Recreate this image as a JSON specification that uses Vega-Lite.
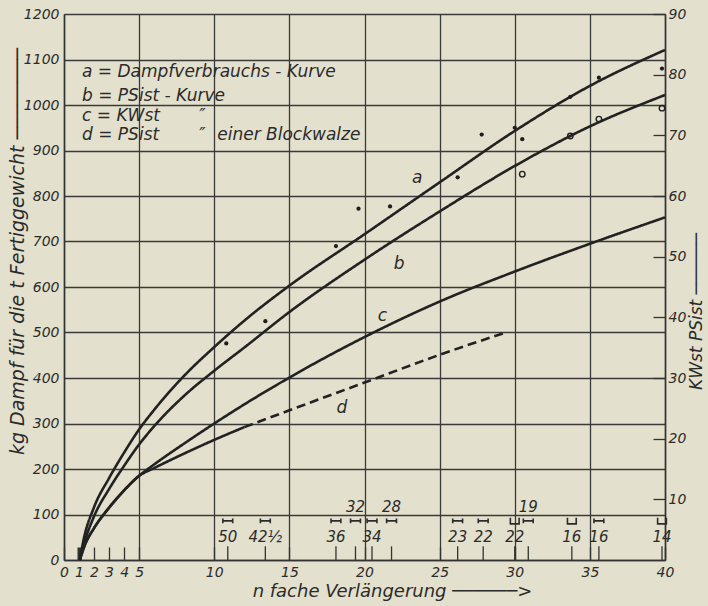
{
  "$schema": "https://vega.github.io/schema/vega-lite/v6.json",
  "width": 601,
  "height": 546,
  "autosize": "none",
  "padding": {"left": 64, "top": 14, "right": 43, "bottom": 46},
  "background": "#e3e0cd",
  "config": {
    "view": {"stroke": null},
    "font": "DejaVu Sans",
    "axis": {
      "domainColor": "#333333",
      "domainWidth": 1.5,
      "gridColor": "#3a3a3a",
      "gridWidth": 1.3,
      "gridOpacity": 1,
      "tickColor": "#333333",
      "labelFont": "DejaVu Sans",
      "labelFontStyle": "italic",
      "labelFontSize": 14,
      "labelColor": "#2b2b2b",
      "titleFont": "DejaVu Sans",
      "titleFontStyle": "italic",
      "titleFontWeight": "normal",
      "titleFontSize": 18,
      "titleColor": "#2b2b2b"
    },
    "text": {"font": "DejaVu Sans", "fontStyle": "italic", "color": "#2b2b2b"}
  },
  "datasets": {
    "curves": [
      {"s": "a", "part": "solid", "x": 1.05, "v": 0},
      {"s": "a", "part": "solid", "x": 1.3, "v": 44},
      {"s": "a", "part": "solid", "x": 2, "v": 116},
      {"s": "a", "part": "solid", "x": 3, "v": 180},
      {"s": "a", "part": "solid", "x": 4, "v": 236},
      {"s": "a", "part": "solid", "x": 5, "v": 287},
      {"s": "a", "part": "solid", "x": 6, "v": 330},
      {"s": "a", "part": "solid", "x": 8, "v": 405},
      {"s": "a", "part": "solid", "x": 10, "v": 468},
      {"s": "a", "part": "solid", "x": 12, "v": 526},
      {"s": "a", "part": "solid", "x": 15, "v": 603},
      {"s": "a", "part": "solid", "x": 20, "v": 716},
      {"s": "a", "part": "solid", "x": 25, "v": 830},
      {"s": "a", "part": "solid", "x": 30, "v": 943},
      {"s": "a", "part": "solid", "x": 35, "v": 1042},
      {"s": "a", "part": "solid", "x": 40, "v": 1121},
      {"s": "b", "part": "solid", "x": 1.05, "v": 0},
      {"s": "b", "part": "solid", "x": 1.3, "v": 32},
      {"s": "b", "part": "solid", "x": 2, "v": 96},
      {"s": "b", "part": "solid", "x": 3, "v": 156},
      {"s": "b", "part": "solid", "x": 4, "v": 207},
      {"s": "b", "part": "solid", "x": 5, "v": 254},
      {"s": "b", "part": "solid", "x": 6, "v": 294},
      {"s": "b", "part": "solid", "x": 8, "v": 361},
      {"s": "b", "part": "solid", "x": 10, "v": 416},
      {"s": "b", "part": "solid", "x": 12, "v": 467},
      {"s": "b", "part": "solid", "x": 15, "v": 545},
      {"s": "b", "part": "solid", "x": 20, "v": 660},
      {"s": "b", "part": "solid", "x": 25, "v": 766},
      {"s": "b", "part": "solid", "x": 30, "v": 866},
      {"s": "b", "part": "solid", "x": 35, "v": 953},
      {"s": "b", "part": "solid", "x": 40, "v": 1022},
      {"s": "c", "part": "solid", "x": 1.05, "v": 0},
      {"s": "c", "part": "solid", "x": 1.4, "v": 34},
      {"s": "c", "part": "solid", "x": 2, "v": 70},
      {"s": "c", "part": "solid", "x": 3, "v": 115},
      {"s": "c", "part": "solid", "x": 4, "v": 153},
      {"s": "c", "part": "solid", "x": 5, "v": 185},
      {"s": "c", "part": "solid", "x": 6, "v": 210},
      {"s": "c", "part": "solid", "x": 8, "v": 256},
      {"s": "c", "part": "solid", "x": 10, "v": 300},
      {"s": "c", "part": "solid", "x": 12, "v": 342},
      {"s": "c", "part": "solid", "x": 15, "v": 401},
      {"s": "c", "part": "solid", "x": 20, "v": 490},
      {"s": "c", "part": "solid", "x": 25, "v": 568},
      {"s": "c", "part": "solid", "x": 30, "v": 634},
      {"s": "c", "part": "solid", "x": 35, "v": 695},
      {"s": "c", "part": "solid", "x": 40, "v": 753},
      {"s": "d", "part": "solid", "x": 1.05, "v": 0},
      {"s": "d", "part": "solid", "x": 1.4, "v": 34},
      {"s": "d", "part": "solid", "x": 2, "v": 70},
      {"s": "d", "part": "solid", "x": 3, "v": 115},
      {"s": "d", "part": "solid", "x": 4, "v": 153},
      {"s": "d", "part": "solid", "x": 5, "v": 185},
      {"s": "d", "part": "solid", "x": 6, "v": 202},
      {"s": "d", "part": "solid", "x": 8, "v": 234},
      {"s": "d", "part": "solid", "x": 10, "v": 264},
      {"s": "d", "part": "solid", "x": 12, "v": 292},
      {"s": "d2", "part": "dashed", "x": 12, "v": 292},
      {"s": "d2", "part": "dashed", "x": 15, "v": 329},
      {"s": "d2", "part": "dashed", "x": 20, "v": 390},
      {"s": "d2", "part": "dashed", "x": 25, "v": 451},
      {"s": "d2", "part": "dashed", "x": 29.3, "v": 499}
    ],
    "points": [
      {"kind": "dot", "x": 10.8, "v": 476},
      {"kind": "dot", "x": 13.4, "v": 525},
      {"kind": "dot", "x": 18.1, "v": 690},
      {"kind": "dot", "x": 19.6, "v": 772},
      {"kind": "dot", "x": 21.7, "v": 777},
      {"kind": "dot", "x": 26.2, "v": 841},
      {"kind": "dot", "x": 27.8, "v": 935},
      {"kind": "dot", "x": 30.0, "v": 950},
      {"kind": "dot", "x": 30.5, "v": 925},
      {"kind": "dot", "x": 33.7, "v": 1018},
      {"kind": "dot", "x": 35.6, "v": 1060},
      {"kind": "dot", "x": 39.8, "v": 1080},
      {"kind": "ring", "x": 30.5, "v": 848},
      {"kind": "ring", "x": 33.7, "v": 932},
      {"kind": "ring", "x": 35.6, "v": 969},
      {"kind": "ring", "x": 39.8, "v": 993}
    ],
    "ann": [
      {"x": 10.9, "n": "50", "sym": "H", "pos": "below"},
      {"x": 13.4, "n": "42½", "sym": "H", "pos": "below"},
      {"x": 18.1, "n": "36", "sym": "H", "pos": "below"},
      {"x": 19.4, "n": "32", "sym": "H", "pos": "above"},
      {"x": 20.5, "n": "34", "sym": "H", "pos": "below"},
      {"x": 21.8, "n": "28", "sym": "H", "pos": "above"},
      {"x": 26.2, "n": "23", "sym": "H", "pos": "below"},
      {"x": 27.9, "n": "22", "sym": "H", "pos": "below"},
      {"x": 30.0, "n": "22", "sym": "U", "pos": "below"},
      {"x": 30.9, "n": "19", "sym": "H", "pos": "above"},
      {"x": 33.8, "n": "16", "sym": "U", "pos": "below"},
      {"x": 35.6, "n": "16", "sym": "H", "pos": "below"},
      {"x": 39.8, "n": "14", "sym": "U", "pos": "below"}
    ],
    "curvelabels": [
      {"t": "a", "x": 23.5, "v": 840},
      {"t": "b", "x": 22.3, "v": 651},
      {"t": "c", "x": 21.2, "v": 536},
      {"t": "d", "x": 18.5, "v": 334}
    ],
    "legend": [
      {"t": "a = Dampfverbrauchs - Kurve", "x": 1.2, "v": 1072},
      {"t": "b = PSist - Kurve", "x": 1.2, "v": 1020},
      {"t": "c = KWst", "x": 1.2, "v": 975},
      {"t": "″", "x": 9.0, "v": 975},
      {"t": "d = PSist", "x": 1.2, "v": 935},
      {"t": "″", "x": 9.0, "v": 935},
      {"t": "einer Blockwalze", "x": 10.2, "v": 935}
    ]
  },
  "layer": [
    {
      "data": {"name": "curves"},
      "mark": {"type": "line", "interpolate": "monotone", "strokeWidth": 2.6, "color": "#222222"},
      "encoding": {
        "x": {
          "field": "x", "type": "quantitative",
          "scale": {"domain": [0, 40], "nice": false, "zero": false},
          "axis": {
            "values": [0, 1, 2, 3, 4, 5, 10, 15, 20, 25, 30, 35, 40],
            "grid": true,
            "gridOpacity": {"condition": {"test": "datum.value > 0 && datum.value < 5", "value": 0}, "value": 1},
            "tickSize": -13,
            "tickWidth": {"condition": {"test": "datum.value == 1", "value": 4}, "value": 1.3},
            "labelPadding": 18,
            "labelFlush": false,
            "labelOverlap": false,
            "title": "n fache Verlängerung ──────>",
            "titleX": 328,
            "titleY": 31,
            "titleAlign": "center",
            "titleBaseline": "middle"
          }
        },
        "y": {
          "field": "v", "type": "quantitative",
          "scale": {"domain": [0, 1200], "nice": false},
          "axis": {
            "values": [0, 100, 200, 300, 400, 500, 600, 700, 800, 900, 1000, 1100, 1200],
            "format": "d",
            "grid": true,
            "tickSize": 0,
            "labelPadding": 5,
            "labelOverlap": false,
            "title": "kg Dampf für die t Fertiggewicht  ────────",
            "titleFontSize": 19,
            "titleAngle": -90,
            "titleX": -47,
            "titleY": 237,
            "titleAlign": "center",
            "titleBaseline": "middle"
          }
        },
        "detail": {"field": "s"},
        "strokeDash": {
          "field": "part", "type": "nominal",
          "scale": {"domain": ["solid", "dashed"], "range": [[1, 0], [9, 5]]},
          "legend": null
        }
      }
    },
    {
      "data": {"name": "points"},
      "transform": [{"filter": "datum.kind == 'dot'"}],
      "mark": {"type": "point", "filled": true, "size": 18, "color": "#1e1e1e", "opacity": 1},
      "encoding": {
        "x": {"field": "x", "type": "quantitative"},
        "y": {"field": "v", "type": "quantitative", "axis": null}
      }
    },
    {
      "data": {"name": "points"},
      "transform": [{"filter": "datum.kind == 'ring'"}],
      "mark": {"type": "point", "filled": false, "size": 30, "strokeWidth": 1.4, "color": "#222222", "opacity": 1},
      "encoding": {
        "x": {"field": "x", "type": "quantitative"},
        "y": {"field": "v", "type": "quantitative", "axis": null}
      }
    },
    {
      "data": {"name": "ann"},
      "mark": {"type": "rule", "strokeWidth": 1.3, "color": "#333333"},
      "encoding": {
        "x": {"field": "x", "type": "quantitative"},
        "y": {"datum": 0, "axis": null},
        "y2": {"datum": 30}
      }
    },
    {
      "data": {"name": "ann"},
      "mark": {"type": "point", "filled": false, "size": 120, "strokeWidth": 1.6, "color": "#2b2b2b", "opacity": 1},
      "encoding": {
        "x": {"field": "x", "type": "quantitative"},
        "y": {"datum": 86, "axis": null},
        "shape": {
          "field": "sym", "type": "nominal",
          "scale": {
            "domain": ["H", "U"],
            "range": ["M-0.9,-0.45L-0.9,0.45M-0.9,0L0.9,0M0.9,-0.45L0.9,0.45", "M-0.8,-0.55L-0.8,0.55L0.8,0.55L0.8,-0.55"]
          },
          "legend": null
        }
      }
    },
    {
      "data": {"name": "ann"},
      "transform": [{"filter": "datum.pos == 'below'"}],
      "mark": {"type": "text", "fontSize": 15, "baseline": "middle"},
      "encoding": {
        "x": {"field": "x", "type": "quantitative"},
        "y": {"datum": 51, "axis": null},
        "text": {"field": "n"}
      }
    },
    {
      "data": {"name": "ann"},
      "transform": [{"filter": "datum.pos == 'above'"}],
      "mark": {"type": "text", "fontSize": 15, "baseline": "middle"},
      "encoding": {
        "x": {"field": "x", "type": "quantitative"},
        "y": {"datum": 117, "axis": null},
        "text": {"field": "n"}
      }
    },
    {
      "data": {"name": "curvelabels"},
      "mark": {"type": "text", "fontSize": 17, "baseline": "middle"},
      "encoding": {
        "x": {"field": "x", "type": "quantitative"},
        "y": {"field": "v", "type": "quantitative", "axis": null},
        "text": {"field": "t"}
      }
    },
    {
      "data": {"name": "legend"},
      "mark": {"type": "text", "fontSize": 17, "align": "left", "baseline": "middle"},
      "encoding": {
        "x": {"field": "x", "type": "quantitative"},
        "y": {"field": "v", "type": "quantitative", "axis": null},
        "text": {"field": "t"}
      }
    },
    {
      "data": {"values": [{"v": 0}, {"v": 1200}]},
      "mark": {"type": "point", "opacity": 0},
      "encoding": {
        "y": {
          "field": "v", "type": "quantitative",
          "axis": {
            "orient": "right",
            "values": [133.3333, 266.6667, 400, 533.3333, 666.6667, 800, 933.3333, 1066.6667, 1200],
            "labelExpr": "format(datum.value * 90 / 1200, '.0f')",
            "grid": false,
            "tickSize": -12,
            "tickWidth": 1.3,
            "labelPadding": 15,
            "labelOverlap": false,
            "title": "KWst PSist  ──────",
            "titleFontSize": 17,
            "titleAngle": -90,
            "titleX": 31,
            "titleY": 297,
            "titleAlign": "center",
            "titleBaseline": "middle"
          }
        }
      }
    }
  ],
  "resolve": {"axis": {"y": "independent"}}
}
